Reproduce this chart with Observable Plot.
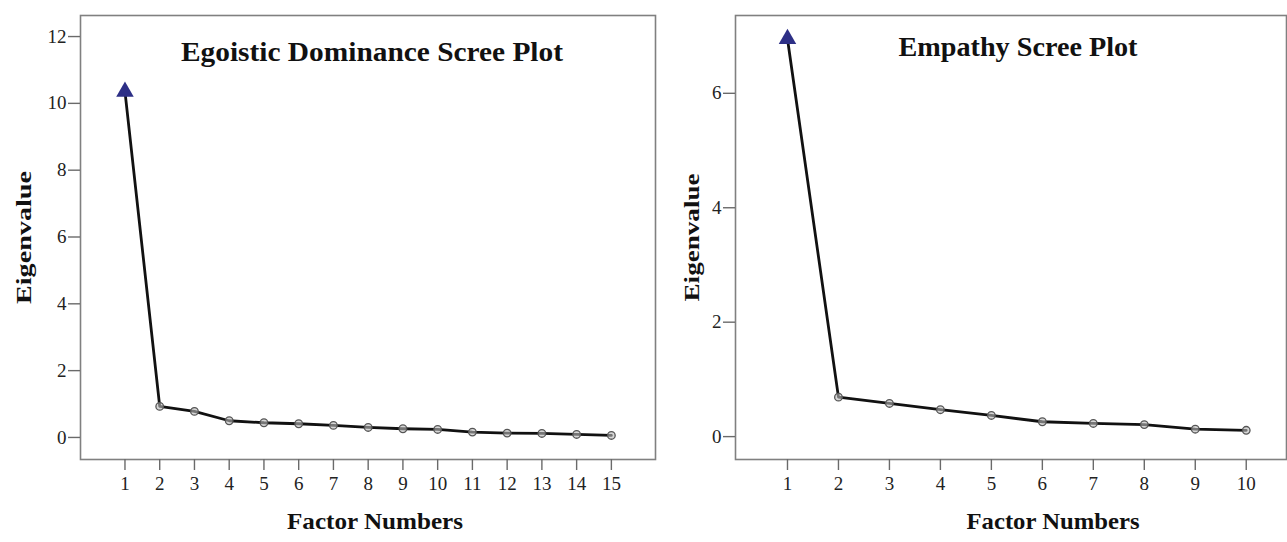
<!DOCTYPE html>
<html>
<head>
<meta charset="utf-8">
<script src="https://cdn.jsdelivr.net/npm/d3@7"></script>
<script src="https://cdn.jsdelivr.net/npm/@observablehq/plot@0.6"></script>
<style>
  html, body { margin: 0; padding: 0; background: #fff; }
  #wrap { position: relative; width: 1287px; height: 542px; overflow: hidden; background: #fff; }
  #wrap svg { position: absolute; top: 0; }
</style>
</head>
<body>
<div id="wrap"></div>
<script>
// ---- Data ----
const egoTitle = "Egoistic Dominance Scree Plot";
const egoFactors = [1, 2, 3, 4, 5, 6, 7, 8, 9, 10, 11, 12, 13, 14, 15];
const egoEigen = [10.35, 0.93, 0.78, 0.50, 0.44, 0.41, 0.36, 0.30, 0.26, 0.24, 0.16, 0.13, 0.12, 0.09, 0.06];
const egoYTicks = [0, 2, 4, 6, 8, 10, 12];

const empTitle = "Empathy Scree Plot";
const empFactors = [1, 2, 3, 4, 5, 6, 7, 8, 9, 10];
const empEigen = [6.95, 0.69, 0.58, 0.47, 0.37, 0.26, 0.23, 0.21, 0.13, 0.11];
const empYTicks = [0, 2, 4, 6];

const xLabel = "Factor Numbers";
const yLabel = "Eigenvalue";

function scree(o) {
  const data = o.factors.map((f, i) => ({factor: f, eigen: o.eigen[i], first: i === 0}));
  const serif = "'Liberation Serif', 'DejaVu Serif', serif";
  const svg = Plot.plot({
    width: o.width,
    height: 542,
    marginLeft: o.marginLeft,
    marginRight: o.marginRight,
    marginTop: 15,
    marginBottom: 83,
    style: {fontFamily: serif, fontSize: "19px", color: "#222", background: "transparent"},
    x: {domain: o.xDomain, axis: null},
    y: {domain: o.yDomain, axis: null},
    marks: [
      Plot.frame({stroke: "#808080", strokeWidth: 1.6}),
      Plot.axisX(o.factors, {tickSize: 11, tickPadding: 6, stroke: "#6a6a6a", strokeWidth: 1.4, fontSize: 19, label: null, tickFormat: "d"}),
      Plot.axisY(o.yTicks, {tickSize: 12, tickPadding: 2, stroke: "#6a6a6a", strokeWidth: 1.4, fontSize: 19, label: null, tickFormat: "d"}),
      Plot.line(data, {x: "factor", y: "eigen", stroke: "#111", strokeWidth: 2.8}),
      Plot.dot(data.filter(d => !d.first), {x: "factor", y: "eigen", r: 3.8, stroke: "#555", strokeWidth: 1.3, fill: "#bbb", fillOpacity: 0.6}),
      Plot.dot(data.filter(d => d.first), {x: "factor", y: "eigen", symbol: "triangle", r: 6.5, fill: "#2d2f86", stroke: "none"}),
      Plot.text([o.title], {frameAnchor: "top", lineAnchor: "middle", dx: o.titleDx, dy: o.titleDy, fontSize: 27, fontWeight: "bold", fill: "#111"}),
      Plot.text([xLabel], {frameAnchor: "bottom", lineAnchor: "middle", dx: o.xLabDx, dy: 62, fontSize: 24, fontWeight: "bold", fill: "#111"}),
      Plot.text([yLabel], {frameAnchor: "left", textAnchor: "middle", lineAnchor: "middle", dx: o.yLabDx, dy: 0, rotate: -90, fontSize: 21, fontWeight: "bold", fill: "#111"})
    ]
  });
  // stretch labels to the reference widths (the reference image is slightly stretched)
  const fit = {[o.title]: o.titleLen, [xLabel]: o.xLabLen, [yLabel]: o.yLabLen};
  d3.select(svg).selectAll("text").each(function() {
    const t = this.textContent;
    if (fit[t] && this.childElementCount === 0) {
      this.setAttribute("textLength", fit[t]);
      this.setAttribute("lengthAdjust", "spacingAndGlyphs");
    }
  });
  return svg;
}

const wrap = document.getElementById("wrap");

const left = scree({
  factors: egoFactors, eigen: egoEigen, yTicks: egoYTicks, title: egoTitle,
  width: 660, marginLeft: 80, marginRight: 5,
  xDomain: [-0.28, 16.27], yDomain: [-0.66, 12.63],
  titleDx: 4, titleDy: 37, titleLen: 382,
  xLabDx: 7, xLabLen: 176,
  yLabDx: -56, yLabLen: 133
});
left.style.left = "0px";
wrap.appendChild(left);

const right = scree({
  factors: empFactors, eigen: empEigen, yTicks: empYTicks, title: empTitle,
  width: 627, marginLeft: 75, marginRight: 1,
  xDomain: [-0.02, 10.79], yDomain: [-0.40, 7.36],
  titleDx: 7, titleDy: 32, titleLen: 239,
  xLabDx: 42, xLabLen: 173,
  yLabDx: -43, yLabLen: 128
});
right.style.left = "660px";
wrap.appendChild(right);
</script>
</body>
</html>
